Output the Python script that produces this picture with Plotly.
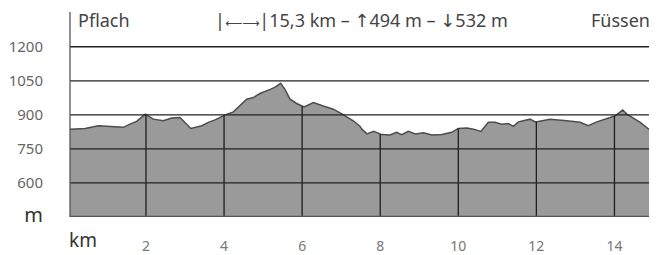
import numpy as np
import plotly.graph_objects as go

# Elevation profile (km, m)
km = [0.05, 0.44, 0.78, 1.12, 1.42, 1.59, 1.76, 1.98, 2.19, 2.44, 2.66, 2.87, 3.00, 3.15,
      3.43, 3.60, 3.77, 4.03, 4.24, 4.58, 4.75, 4.92, 5.18, 5.31, 5.45, 5.56, 5.69, 5.86,
      6.05, 6.29, 6.54, 6.80, 7.06, 7.31, 7.48, 7.53, 7.66, 7.83, 8.04, 8.25, 8.42, 8.55,
      8.72, 8.90, 9.11, 9.32, 9.58, 9.83, 10.00, 10.22, 10.39, 10.58, 10.77, 10.94, 11.11,
      11.28, 11.41, 11.54, 11.84, 11.97, 12.05, 12.35, 12.78, 13.12, 13.33, 13.55, 13.89,
      14.02, 14.21, 14.32, 14.66, 14.92, 15.09]
elev = [837, 840, 852, 848, 845, 859, 871, 903, 881, 874, 886, 888, 867, 840,
        852, 867, 878, 900, 913, 969, 976, 994, 1012, 1022, 1039, 1012, 969, 950,
        935, 954, 939, 925, 900, 874, 850, 837, 816, 827, 813, 811, 823, 813,
        827, 816, 821, 811, 813, 823, 840, 842, 837, 827, 867, 867, 859,
        862, 849, 869, 881, 869, 871, 881, 874, 867, 852, 869, 888,
        896, 921, 903, 867, 830, 808]

x_ticks = [2, 4, 6, 8, 10, 12, 14]
y_ticks = [450, 600, 750, 900, 1050, 1200]
y_ticktext = ["<span style='font-size:20px;color:#333333'>m</span>", "600", "750", "900", "1050", "1200"]
start_label = "Pflach"
end_label = "Füssen"
summary = "|<span style='font-size:12px'>⟵⟶</span>|15,3 km – ↑494 m – ↓532 m"

Y_MIN, Y_MAX = 450, 1353
X_MIN, X_MAX = 0.054, 15.09

fig = go.Figure()
fig.add_trace(go.Scatter(x=km, y=elev, mode="lines", fill="tozeroy",
                         fillcolor="#9a9a9a", line=dict(color="#4d4d4d", width=1.5),
                         hoverinfo="skip"))

# vertical grid lines clipped to profile
vx, vy = [], []
for t in x_ticks:
    top = float(np.interp(t, km, elev))
    vx += [t, t, None]
    vy += [Y_MIN, top, None]
fig.add_trace(go.Scatter(x=vx, y=vy, mode="lines", line=dict(color="#1e1e1e", width=1.3),
                         hoverinfo="skip"))

shapes = []
for v in y_ticks[1:]:
    shapes.append(dict(type="line", xref="paper", x0=0, x1=1, yref="y", y0=v, y1=v,
                       line=dict(color="#222222", width=1.3), layer="above"))
shapes.append(dict(type="line", xref="paper", x0=0, x1=1, yref="y", y0=Y_MIN, y1=Y_MIN,
                   line=dict(color="#555555", width=2.5), layer="above"))
shapes.append(dict(type="line", xref="paper", x0=0, x1=0, yref="paper", y0=0, y1=1,
                   line=dict(color="#555555", width=1.3), layer="above"))

font = "Noto Sans, Open Sans, DejaVu Sans, sans-serif"
annotations = [
    dict(text=start_label, xref="paper", yref="paper", x=0, xshift=6, y=0.961,
         xanchor="left", yanchor="middle", showarrow=False,
         font=dict(size=18, color="#444444", family=font)),
    dict(text=end_label, xref="paper", yref="paper", x=1, xshift=-5, y=0.961,
         xanchor="right", yanchor="middle", showarrow=False,
         font=dict(size=18, color="#444444", family=font)),
    dict(text=summary, xref="paper", yref="paper", x=0.497, y=0.961,
         xanchor="center", yanchor="middle", showarrow=False,
         font=dict(size=18, color="#444444", family=font)),
    dict(text="km", xref="paper", yref="paper", x=0, xshift=-3, y=-0.112,
         xanchor="left", yanchor="middle", showarrow=False,
         font=dict(size=19, color="#333333", family=font)),
]

# page adds an 8px body margin; the figure is sized to fit inside the window
fig.update_layout(
    width=649, height=247,
    margin=dict(l=62, r=0, t=4, b=36),
    paper_bgcolor="white", plot_bgcolor="white",
    showlegend=False,
    shapes=shapes, annotations=annotations,
    font=dict(family=font),
    xaxis=dict(range=[X_MIN, X_MAX], tickvals=x_ticks, ticks="", showgrid=False,
               zeroline=False, showline=False, ticklabelstandoff=19,
               tickfont=dict(size=14, color="#777777", family=font)),
    yaxis=dict(range=[Y_MIN, Y_MAX], tickvals=y_ticks, ticktext=y_ticktext, ticks="",
               showgrid=False, zeroline=False, showline=False, ticklabelstandoff=26,
               tickfont=dict(size=15, color="#666666", family=font)),
)

fig.write_html("out.html")
